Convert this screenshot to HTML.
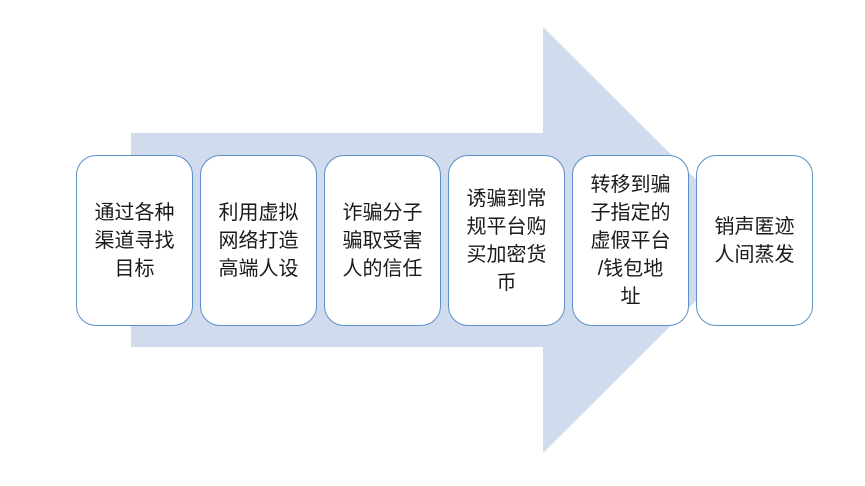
<!DOCTYPE html>
<html><head><meta charset="utf-8"><style>
html,body{margin:0;padding:0;background:#fff;}
body{width:865px;height:486px;position:relative;overflow:hidden;font-family:"Liberation Sans","Noto Sans CJK SC",sans-serif;}
.b{position:absolute;top:155px;width:115px;height:169px;border:1.3px solid #5b8fc7;border-radius:20px;background:#fff;display:flex;align-items:center;justify-content:center;text-align:center;font-size:20px;line-height:28px;color:#1a1a1a;}
</style></head><body>
<svg width="865" height="486" style="position:absolute;left:0;top:0">
<polygon points="131,133 543,133 543,27 757,240 543,453 543,347 131,347" fill="#d0dcee"/>
</svg>
<div class="b" style="left:76px">通过各种<br>渠道寻找<br>目标</div>
<div class="b" style="left:200px">利用虚拟<br>网络打造<br>高端人设</div>
<div class="b" style="left:324px">诈骗分子<br>骗取受害<br>人的信任</div>
<div class="b" style="left:448px">诱骗到常<br>规平台购<br>买加密货<br>币</div>
<div class="b" style="left:572px">转移到骗<br>子指定的<br>虚假平台<br>/钱包地<br>址</div>
<div class="b" style="left:696px">销声匿迹<br>人间蒸发</div>
</body></html>
